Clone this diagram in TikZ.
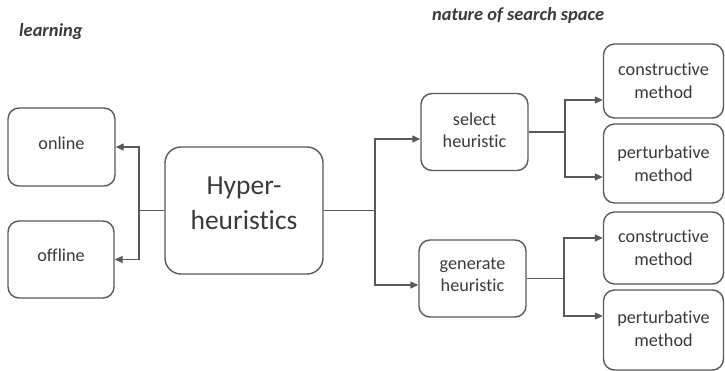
\documentclass[tikz,border=0pt]{standalone}
\usepackage{fontspec}
\setmainfont[Ligatures={NoCommon,NoRequired,NoContextual},RawFeature={-liga;-clig;-dlig}]{Carlito}
\usetikzlibrary{arrows.meta,calc}
\definecolor{edge}{HTML}{595959}
\definecolor{ink}{HTML}{3A3A3A}
\begin{document}
\begin{tikzpicture}[x=1pt,y=-1pt,
  box/.style={draw=edge,line width=1.4pt,rounded corners=11pt,align=center,text=ink,
    font=\fontsize{18.2}{22.5}\selectfont,inner sep=0pt},
  big/.style={box,rounded corners=16pt,font=\fontsize{27.5}{35}\selectfont},
  conn/.style={draw=edge,line width=1.4pt},
  arr/.style={conn,-{Triangle[length=8pt,width=7pt]}},
  lab/.style={text=ink,font=\fontsize{18.4}{22}\selectfont\bfseries\itshape,anchor=west,inner sep=0pt}]
\useasboundingbox (0,0) rectangle (725,371);
\node[lab] (learn) at (19,32) {learning};
\node[lab] (nss) at (432,15) {nature of search space};
\node[box,minimum width=107pt,minimum height=78pt,text depth=8pt] (online) at (61.5,147) {online};
\node[box,minimum width=106pt,minimum height=77pt,text depth=8pt] (offline) at (61,259.5) {offline};
\node[big,minimum width=158pt,minimum height=127pt,text depth=15pt] (hyper) at (244,210.5) {Hyper-\\heuristics};
\node[box,minimum width=107pt,minimum height=77pt,text depth=4pt] (select) at (474.5,132) {select\\heuristic};
\node[box,minimum width=107pt,minimum height=77pt,text depth=8pt] (generate) at (472.5,278.5) {generate\\heuristic};
\node[box,minimum width=120pt,minimum height=74pt] (cons1) at (663.5,81) {constructive\\method};
\node[box,minimum width=120pt,minimum height=79pt] (pert1) at (663.5,163.5) {perturbative\\method};
\node[box,minimum width=120pt,minimum height=72pt] (cons2) at (663.5,248) {constructive\\method};
\node[box,minimum width=120pt,minimum height=80pt,text depth=3pt] (pert2) at (663.5,330) {perturbative\\method};
% junctions
\coordinate (jl) at (139,210.5);
\coordinate (jr) at (375,210.5);
\coordinate (js) at (565,132);
\coordinate (jg) at (564,278.5);
% left
\draw[conn] (hyper.west) -- (jl);
\draw[arr] (jl) |- (online.east);
\draw[arr] (jl) |- (offline.east);
% right
\draw[conn] (hyper.east) -- (jr);
\draw[arr] (jr) |- ([yshift=-7pt]select.west);
\draw[arr] (jr) |- ([yshift=-6.5pt]generate.west);
\draw[conn] (select.east) -- (js);
\draw[arr] (js) |- ([yshift=-19pt]cons1.west);
\draw[arr] (js) |- ([yshift=-13.5pt]pert1.west);
\draw[conn] (generate.east) -- (jg);
\draw[arr] (jg) |- ([yshift=10pt]cons2.west);
\draw[arr] (jg) |- ([yshift=14pt]pert2.west);
\end{tikzpicture}
\end{document}
